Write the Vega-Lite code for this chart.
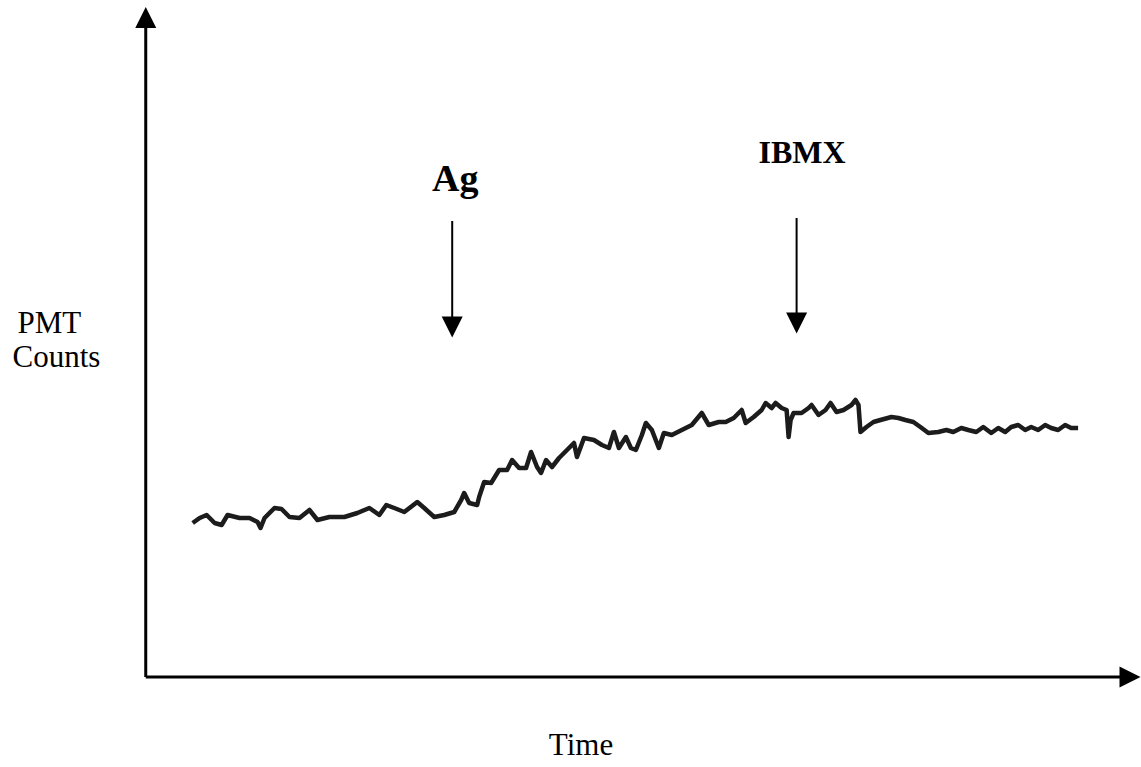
{
  "$schema": "https://vega.github.io/schema/vega-lite/v6.json",
  "autosize": {"type": "fit", "contains": "padding"},
  "width": 1141,
  "height": 767,
  "padding": 0,
  "background": "white",
  "config": {"view": {"stroke": null}},
  "datasets": {
    "trace": [
      {"t": 4.7, "c": 30.8}, {"t": 5.4, "c": 31.8}, {"t": 6.1, "c": 32.4}, {"t": 6.9, "c": 30.8},
      {"t": 7.6, "c": 30.4}, {"t": 8.2, "c": 32.4}, {"t": 9.4, "c": 31.8}, {"t": 10.4, "c": 31.8},
      {"t": 11.2, "c": 31.0}, {"t": 11.5, "c": 29.8}, {"t": 11.9, "c": 31.8}, {"t": 12.9, "c": 33.8},
      {"t": 13.6, "c": 33.6}, {"t": 14.4, "c": 32.0}, {"t": 15.4, "c": 31.8}, {"t": 16.4, "c": 33.4},
      {"t": 17.2, "c": 31.4}, {"t": 18.4, "c": 32.0}, {"t": 19.9, "c": 32.0}, {"t": 21.2, "c": 32.8},
      {"t": 22.4, "c": 33.8}, {"t": 23.4, "c": 32.4}, {"t": 24.1, "c": 34.4}, {"t": 24.9, "c": 33.8},
      {"t": 25.9, "c": 33.0}, {"t": 27.2, "c": 35.0}, {"t": 27.9, "c": 33.8}, {"t": 28.9, "c": 32.0},
      {"t": 29.9, "c": 32.4}, {"t": 30.9, "c": 33.0}, {"t": 31.6, "c": 35.4}, {"t": 31.9, "c": 36.8},
      {"t": 32.4, "c": 34.8}, {"t": 33.2, "c": 34.4}, {"t": 33.4, "c": 36.0}, {"t": 33.9, "c": 39.0},
      {"t": 34.6, "c": 38.8}, {"t": 35.4, "c": 41.4}, {"t": 36.2, "c": 41.4}, {"t": 36.7, "c": 43.4},
      {"t": 37.4, "c": 41.8}, {"t": 38.1, "c": 41.8}, {"t": 38.6, "c": 45.0}, {"t": 39.2, "c": 42.0},
      {"t": 39.6, "c": 40.8}, {"t": 40.1, "c": 43.4}, {"t": 40.7, "c": 42.0}, {"t": 41.4, "c": 43.8},
      {"t": 42.2, "c": 45.4}, {"t": 42.9, "c": 46.8}, {"t": 43.2, "c": 44.0}, {"t": 43.9, "c": 47.8},
      {"t": 44.9, "c": 47.4}, {"t": 45.7, "c": 46.4}, {"t": 46.4, "c": 45.8}, {"t": 46.9, "c": 49.0},
      {"t": 47.4, "c": 45.8}, {"t": 48.1, "c": 48.0}, {"t": 48.6, "c": 45.8}, {"t": 49.1, "c": 45.4},
      {"t": 49.7, "c": 48.4}, {"t": 50.1, "c": 50.8}, {"t": 50.7, "c": 49.4}, {"t": 51.4, "c": 45.8},
      {"t": 51.9, "c": 48.8}, {"t": 52.7, "c": 48.4}, {"t": 53.7, "c": 49.4}, {"t": 54.7, "c": 50.4},
      {"t": 55.7, "c": 52.8}, {"t": 56.4, "c": 50.4}, {"t": 57.4, "c": 51.0}, {"t": 58.1, "c": 51.0},
      {"t": 58.9, "c": 51.8}, {"t": 59.7, "c": 53.4}, {"t": 60.1, "c": 50.8}, {"t": 60.9, "c": 52.0},
      {"t": 61.7, "c": 53.4}, {"t": 62.1, "c": 54.8}, {"t": 62.7, "c": 53.8}, {"t": 63.1, "c": 54.8},
      {"t": 63.7, "c": 53.8}, {"t": 64.2, "c": 53.4}, {"t": 64.4, "c": 48.0}, {"t": 64.6, "c": 51.4},
      {"t": 64.9, "c": 52.8}, {"t": 65.7, "c": 52.8}, {"t": 66.4, "c": 53.8}, {"t": 66.7, "c": 54.4},
      {"t": 67.4, "c": 52.4}, {"t": 68.1, "c": 53.4}, {"t": 68.6, "c": 54.8}, {"t": 69.2, "c": 53.0},
      {"t": 69.9, "c": 53.4}, {"t": 70.7, "c": 54.4}, {"t": 71.1, "c": 55.4}, {"t": 71.4, "c": 54.4},
      {"t": 71.6, "c": 49.0}, {"t": 72.2, "c": 50.0}, {"t": 72.9, "c": 51.0}, {"t": 73.6, "c": 51.4},
      {"t": 74.7, "c": 52.0}, {"t": 75.4, "c": 51.8}, {"t": 76.1, "c": 51.4}, {"t": 76.9, "c": 51.0},
      {"t": 77.6, "c": 50.0}, {"t": 78.4, "c": 48.8}, {"t": 79.4, "c": 49.0}, {"t": 80.2, "c": 49.4},
      {"t": 80.9, "c": 49.0}, {"t": 81.7, "c": 49.8}, {"t": 82.4, "c": 49.4}, {"t": 83.2, "c": 49.0},
      {"t": 83.9, "c": 50.0}, {"t": 84.7, "c": 48.8}, {"t": 85.4, "c": 49.8}, {"t": 86.1, "c": 49.0},
      {"t": 86.7, "c": 50.0}, {"t": 87.4, "c": 50.4}, {"t": 88.1, "c": 49.4}, {"t": 88.7, "c": 50.0},
      {"t": 89.4, "c": 49.4}, {"t": 90.1, "c": 50.4}, {"t": 90.7, "c": 49.8}, {"t": 91.4, "c": 49.4},
      {"t": 92.1, "c": 50.4}, {"t": 92.7, "c": 49.8}, {"t": 93.4, "c": 49.8}
    ],
    "axes": [
      {"name": "y axis", "t": 0, "c": 0, "t2": 0, "c2": 129.8},
      {"name": "x axis", "t": 0, "c": 0, "t2": 97.7, "c2": 0}
    ],
    "markers": [
      {"name": "Ag", "t": 30.7, "c": 91.2, "t2": 30.7, "c2": 72.0},
      {"name": "IBMX", "t": 65.2, "c": 91.8, "t2": 65.2, "c2": 72.8}
    ],
    "upHeads": [{"t": 0, "c": 131.9}],
    "rightHeads": [{"t": 98.6, "c": 0}],
    "downHeads": [{"t": 30.7, "c": 70.0}, {"t": 65.2, "c": 70.8}],
    "eventLabels": [
      {"label": "Ag", "t": 31.0, "c": 97.2, "size": 38},
      {"label": "IBMX", "t": 65.75, "c": 102.8, "size": 32}
    ],
    "axisLabels": [
      {"label": "PMT", "t": -9.65, "c": 68.8},
      {"label": "Counts", "t": -8.95, "c": 62.0},
      {"label": "Time", "t": 43.6, "c": -15.6}
    ]
  },
  "encoding": {
    "x": {"field": "t", "type": "quantitative", "scale": {"domain": [-14.6, 99.5], "nice": false, "zero": false}, "axis": null},
    "y": {"field": "c", "type": "quantitative", "scale": {"domain": [-18.0, 135.4], "nice": false, "zero": false}, "axis": null}
  },
  "layer": [
    {
      "data": {"name": "axes"},
      "mark": {"type": "rule", "color": "black", "strokeWidth": 3},
      "encoding": {"x2": {"field": "t2"}, "y2": {"field": "c2"}}
    },
    {
      "data": {"name": "markers"},
      "mark": {"type": "rule", "color": "black", "strokeWidth": 2},
      "encoding": {"x2": {"field": "t2"}, "y2": {"field": "c2"}}
    },
    {
      "data": {"name": "upHeads"},
      "mark": {"type": "point", "shape": "M0,-1L-1,1L1,1Z", "filled": true, "color": "black", "size": 441, "opacity": 1}
    },
    {
      "data": {"name": "rightHeads"},
      "mark": {"type": "point", "shape": "M1,0L-1,-1L-1,1Z", "filled": true, "color": "black", "size": 441, "opacity": 1}
    },
    {
      "data": {"name": "downHeads"},
      "mark": {"type": "point", "shape": "M0,1L-1,-1L1,-1Z", "filled": true, "color": "black", "size": 441, "opacity": 1}
    },
    {
      "data": {"name": "trace"},
      "mark": {"type": "line", "color": "#1c1c1c", "strokeWidth": 4.5, "strokeJoin": "round"}
    },
    {
      "data": {"name": "eventLabels"},
      "mark": {"type": "text", "font": "Liberation Serif", "fontWeight": "bold", "align": "center", "baseline": "alphabetic", "color": "black"},
      "encoding": {"text": {"field": "label"}, "size": {"field": "size", "type": "quantitative", "scale": null}}
    },
    {
      "data": {"name": "axisLabels"},
      "mark": {"type": "text", "font": "Liberation Serif", "fontSize": 31, "align": "center", "baseline": "alphabetic", "color": "black"},
      "encoding": {"text": {"field": "label"}}
    }
  ]
}
